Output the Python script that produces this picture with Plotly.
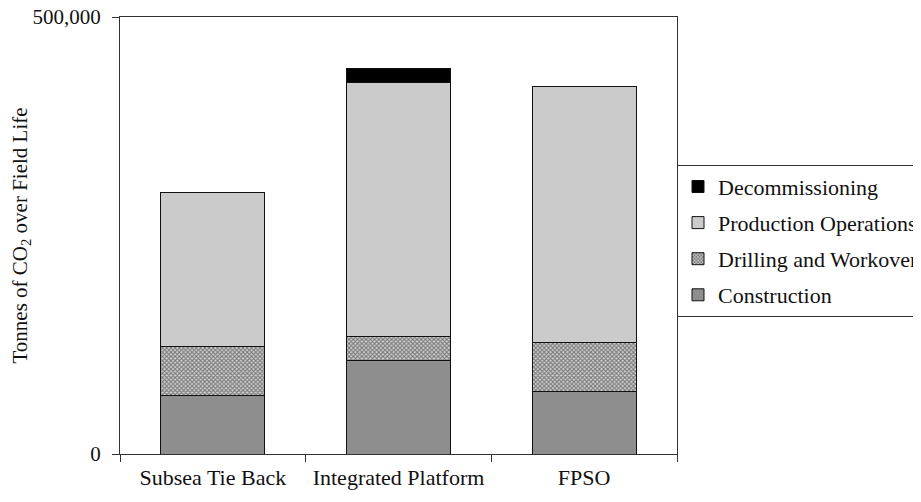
import plotly.graph_objects as go

categories = ["Subsea Tie Back", "Integrated Platform", "FPSO"]
construction = [67000, 107000, 72000]
drilling = [56000, 27000, 56000]
production = [176000, 291000, 292000]
decommissioning = [0, 16000, 0]

FONT = "Liberation Serif"

fig = go.Figure()
common = dict(width=0.56, marker_line_color="#111", marker_line_width=1)
fig.add_trace(go.Bar(name="Construction", x=categories, y=construction,
                     marker_color="#8e8e8e", legendgroup="a", legendrank=4, **common))
fig.add_trace(go.Bar(name="Drilling and Workover", x=categories, y=drilling,
                     marker=dict(color="#d0d0d0",
                                 pattern=dict(shape="x", size=3, solidity=0.6,
                                              fgcolor="#1e1e1e", bgcolor="#d6d6d6")),
                     legendgroup="b", legendrank=3, **common))
fig.add_trace(go.Bar(name="Production Operations", x=categories, y=production,
                     marker_color="#cbcbcb", legendgroup="c", legendrank=2, **common))
fig.add_trace(go.Bar(name="Decommissioning", x=categories, y=decommissioning,
                     marker_color="#000000", legendgroup="d", legendrank=1, **common))

# page body has an 8px margin; figure sized/positioned to compensate
fig.update_layout(
    barmode="stack",
    width=913, height=486,
    margin=dict(l=112, r=244, t=9, b=40, autoexpand=False),
    paper_bgcolor="white", plot_bgcolor="white",
    font=dict(family=FONT, size=22, color="#111"),
    showlegend=True,
    legend=dict(x=1.0, y=0.662, xanchor="left", yanchor="top",
                traceorder="grouped", tracegroupgap=4.5,
                bordercolor="#333", borderwidth=1,
                font=dict(family=FONT, size=22, color="#111")),
    xaxis=dict(showline=True, linecolor="#333", linewidth=1, mirror=True,
               ticks="outside", ticklen=7, tickcolor="#333", tickson="boundaries",
               automargin=False, ticklabelstandoff=4,
               tickfont=dict(family=FONT, size=22)),
    yaxis=dict(range=[0, 500000], tickvals=[0, 500000],
               ticktext=["0", "500,000"],
               showline=True, linecolor="#333", linewidth=1, mirror=True,
               ticks="outside", ticklen=7, tickcolor="#333",
               showgrid=False, zeroline=False, automargin=False,
               ticklabelstandoff=7, ticklabeloverflow="allow",
               tickfont=dict(family=FONT, size=21),
               title=dict(text="Tonnes of CO<sub>2</sub> over Field Life",
                          font=dict(family=FONT, size=21), standoff=2)),
)

fig.write_html("out.html")
